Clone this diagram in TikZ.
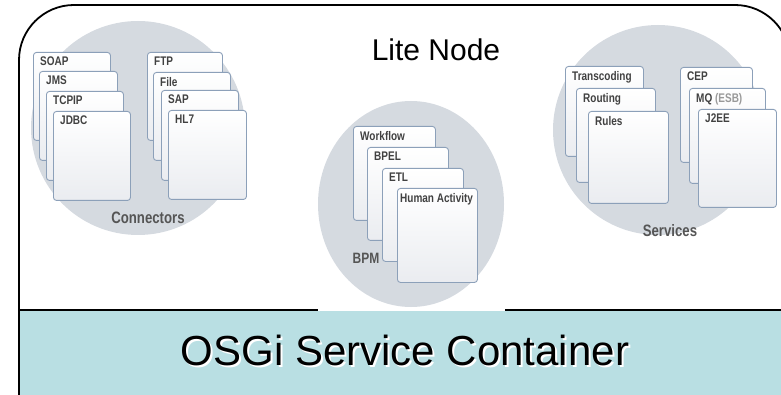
\documentclass[tikz,border=0pt]{standalone}
\usepackage{fontspec}
\setmainfont{Liberation Sans}
\newfontfamily\cardfont[FakeStretch=0.8]{Liberation Sans}
\usetikzlibrary{shapes.geometric}
\definecolor{tealbg}{RGB}{185,223,227}
\definecolor{circ}{RGB}{213,218,224}
\definecolor{cardline}{RGB}{140,160,185}
\definecolor{cardbot}{RGB}{234,236,240}
\definecolor{labtxt}{RGB}{65,65,65}
\definecolor{captxt}{RGB}{85,85,85}
\tikzset{
  cardbox/.style={draw=cardline, line width=0.9pt, rounded corners=3pt,
    top color=white, bottom color=cardbot, inner sep=0pt},
  cardtxt/.style={inner sep=0pt, text=labtxt, font=\cardfont\bfseries\fontsize{12.5}{13}\selectfont},
  captionlbl/.style={inner sep=0pt, text=captxt, font=\cardfont\bfseries\fontsize{16.5}{17}\selectfont},
  bigcirc/.style={circle, fill=circ, inner sep=0pt},
  frameline/.style={line width=1.8pt, black},
}
\newcommand\mycard[6]{%
  \node[cardbox, anchor=north west, minimum width={#4-#2}, minimum height={#5-#3}] (#1) at (#2,#3) {};
  \node[cardtxt, anchor=north west] (#1t) at ([xshift=7pt,yshift=-5pt]#1.north west) {#6};}
\begin{document}
\begin{tikzpicture}[x=1pt,y=-1pt]
\useasboundingbox (0,0) rectangle (781,395);
\clip (0,0) rectangle (781,395);
% container band
\fill[tealbg] (19,311) rectangle (800,420);
% frame
\draw[frameline, rounded corners=55pt] (19,420) -- (19,5) -- (790,5) -- (790,420);
\draw[frameline] (19,310) -- (318,310);
\draw[frameline] (505,310) -- (790,310);
% circles
\node[bigcirc, minimum size=214pt] (conncirc) at (138,128) {};
\node[ellipse, fill=circ, inner sep=0pt, minimum width=186pt, minimum height=206pt] (bpmcirc) at (411,204) {};
\node[bigcirc, minimum size=210pt] (servcirc) at (658,130) {};
% connectors
\mycard{soap}{33}{52}{110}{140}{SOAP}
\mycard{jms}{39}{71}{117}{160}{JMS}
\mycard{tcpip}{46}{91}{123}{180}{TCPIP}
\mycard{jdbc}{53}{111}{130}{200}{JDBC}
\mycard{ftp}{147}{52}{222}{140}{FTP}
\mycard{file}{153}{72}{230}{160}{File}
\mycard{sap}{161}{90}{238}{180}{SAP}
\mycard{hlseven}{168}{110}{246}{199}{HL7}
\node[captionlbl] (conntxt) at (148,218) {Connectors};
% BPM
\mycard{workflow}{353}{126}{435}{220}{Workflow}
\mycard{bpel}{367}{147}{448}{240}{BPEL}
\mycard{etl}{382}{168}{463}{261}{ETL}
\node[cardbox, anchor=north west, minimum width=80pt, minimum height=94pt] (human) at (397,188) {};
\node[cardtxt, anchor=north west] (humant) at ([xshift=3pt,yshift=-5pt]human.north west) {Human Activity};
\node[captionlbl, font=\cardfont\bfseries\fontsize{15}{16}\selectfont] (bpmtxt) at (366,258) {BPM};
% services
\mycard{transcoding}{565}{66}{643}{156}{Transcoding}
\mycard{routing}{576}{88}{655}{182}{Routing}
\mycard{rules}{588}{111}{668}{203}{Rules}
\mycard{cep}{680}{67}{752}{162}{CEP}
\mycard{mq}{689}{88}{765}{183}{MQ {\color{gray!80}(ESB)}}
\mycard{jtwoee}{698}{109}{776}{207}{J2EE}
\node[captionlbl] (servtxt) at (670,231) {Services};
% titles
\node[inner sep=0pt, font=\fontsize{30}{33}\selectfont] (lite) at (436,50) {Lite Node};
\node[inner sep=0pt, text=white, font=\fontsize{42}{46}\selectfont] (osgishadow) at (407,352) {OSGi Service Container};
\node[inner sep=0pt, font=\fontsize{42}{46}\selectfont] (osgi) at (405,350) {OSGi Service Container};
\end{tikzpicture}
\end{document}
